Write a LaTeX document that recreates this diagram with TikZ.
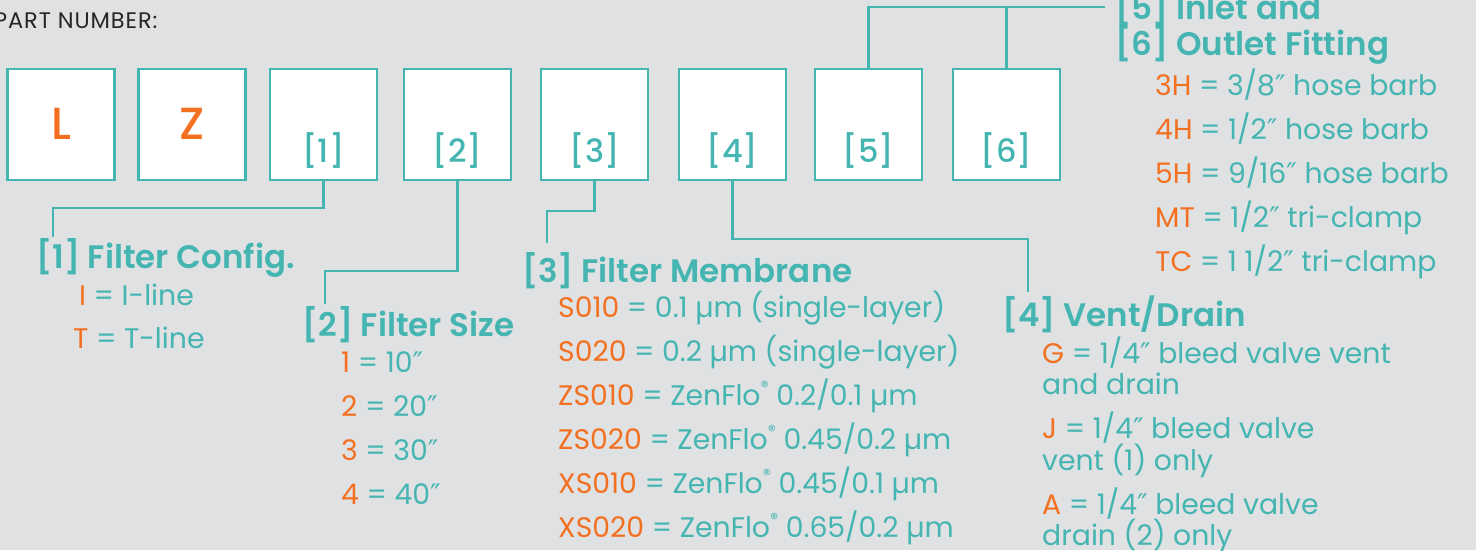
\documentclass[tikz,border=0pt]{standalone}
\usepackage{fontspec}
\setmainfont{Poppins}
\newfontfamily\medf{Poppins Medium}
\newfontfamily\semf{Poppins SemiBold}
\newfontfamily\pnf{Poppins}[LetterSpace=4]
\newfontfamily\dvs{DejaVu Sans}
\definecolor{tealc}{RGB}{68,181,177}
\definecolor{orng}{RGB}{243,112,33}
\definecolor{bgc}{RGB}{224,225,227}
\newcommand\cd[1]{\textcolor{orng}{#1}}
\newcommand\reg{\raisebox{0.45em}{\fontsize{16}{16}\selectfont ®}}
\newcommand\dq{{\dvs ″}}
\tikzset{
  pbox/.style={draw=tealc, line width=2.6pt, fill=white, minimum width=107pt, minimum height=111pt, inner sep=0},
  blab/.style={anchor=base, inner sep=0, text=tealc, font=\fontsize{32}{32}\selectfont\medf},
  bletter/.style={anchor=base, inner sep=0, text=orng, font=\fontsize{45}{45}\selectfont\medf},
  head/.style={anchor=base west, inner sep=0, text=tealc, font=\fontsize{32.5}{32.5}\selectfont\semf},
  item/.style={anchor=base west, inner sep=0, text=tealc, font=\fontsize{28.3}{28.3}\selectfont},
  conn/.style={draw=tealc, line width=2.6pt}
}
\begin{document}
\begin{tikzpicture}[x=1pt,y=-1pt]
\useasboundingbox (0,0) rectangle (1476,550);
\clip (0,0) rectangle (1476,550);
\fill[bgc] (0,0) rectangle (1476,550);
\node[anchor=base west, inner sep=0, text=black!85, font=\fontsize{22.5}{22.5}\selectfont\pnf] (pn) at (-6,28) {PART NUMBER:};
% boxes
\node[pbox] (bL) at (61,124.5) {};
\node[pbox] (bZ) at (192,124.5) {};
\node[pbox] (b1) at (323.5,124.5) {};
\node[pbox] (b2) at (457.5,124.5) {};
\node[pbox] (b3) at (594.5,124.5) {};
\node[pbox] (b4) at (732.5,124.5) {};
\node[pbox] (b5) at (868.5,124.5) {};
\node[pbox] (b6) at (1006.5,124.5) {};
\node[bletter] (tL) at (61,139) {L};
\node[bletter] (tZ) at (192,139) {Z};
\node[blab] (t1) at (323.5,162) {[1]};
\node[blab] (t2) at (457.5,162) {[2]};
\node[blab] (t3) at (594.5,162) {[3]};
\node[blab] (t4) at (732.5,162) {[4]};
\node[blab] (t5) at (868.5,162) {[5]};
\node[blab] (t6) at (1006.5,162) {[6]};
% connectors
\coordinate (k1) at (53,208); \coordinate (c1) at (53,237);
\draw[conn] (b1.south) |- (k1) -- (c1);
\coordinate (k2) at (325,271); \coordinate (c2) at (325,304);
\draw[conn] (b2.south) |- (k2) -- (c2);
\coordinate (k3) at (547,211); \coordinate (c3) at (547,243);
\draw[conn] (b3.south) |- (k3) -- (c3);
\coordinate (k4) at (1028,239); \coordinate (c4) at (1028,292);
\draw[conn] (b4.south) |- (k4) -- (c4);
\coordinate (k5) at (1105,7);
\draw[conn] (b5.north) |- (k5);
\draw[conn] (b6.north) -- (b6.north |- k5);
% [1]
\node[head] (h1) at (36,268) {[1] Filter Config.};
\node[item] (i1a) at (79,305) {\cd{I} = I-line};
\node[item] (i1b) at (73,348) {\cd{T} = T-line};
% [2]
\node[head] (h2) at (302,336) {[2] Filter Size};
\node[item] (i2a) at (341,372) {\cd{1} = 10\dq};
\node[item] (i2b) at (341,416) {\cd{2} = 20\dq};
\node[item] (i2c) at (341,460) {\cd{3} = 30\dq};
\node[item] (i2d) at (341,504) {\cd{4} = 40\dq};
% [3]
\node[head] (h3) at (522,282) {[3] Filter Membrane};
\node[item] (i3a) at (558,317) {\cd{S010} = 0.1 µm (single-layer)};
\node[item] (i3b) at (558,361) {\cd{S020} = 0.2 µm (single-layer)};
\node[item] (i3c) at (558,405) {\cd{ZS010} = ZenFlo\reg{} 0.2/0.1 µm};
\node[item] (i3d) at (558,449) {\cd{ZS020} = ZenFlo\reg{} 0.45/0.2 µm};
\node[item] (i3e) at (558,493) {\cd{XS010} = ZenFlo\reg{} 0.45/0.1 µm};
\node[item] (i3f) at (558,537) {\cd{XS020} = ZenFlo\reg{} 0.65/0.2 µm};
% [4]
\node[head] (h4) at (1002,326) {[4] Vent/Drain};
\node[item] (i4a) at (1042,363) {\cd{G} = 1/4\dq{} bleed valve vent};
\node[item] (i4b) at (1042,394) {and drain};
\node[item] (i4c) at (1042,438) {\cd{J} = 1/4\dq{} bleed valve};
\node[item] (i4d) at (1042,470) {vent (1) only};
\node[item] (i4e) at (1042,514) {\cd{A} = 1/4\dq{} bleed valve};
\node[item] (i4f) at (1042,545) {drain (2) only};
% [5][6]
\node[head] (h5) at (1115,19) {[5] Inlet and};
\node[head] (h6) at (1115,55) {[6] Outlet Fitting};
\node[item] (i5a) at (1155,95) {\cd{3H} = 3/8\dq{} hose barb};
\node[item] (i5b) at (1155,139) {\cd{4H} = 1/2\dq{} hose barb};
\node[item] (i5c) at (1155,183) {\cd{5H} = 9/16\dq{} hose barb};
\node[item] (i5d) at (1155,227) {\cd{MT} = 1/2\dq{} tri-clamp};
\node[item] (i5e) at (1155,271) {\cd{TC} = 1 1/2\dq{} tri-clamp};
\end{tikzpicture}
\end{document}
